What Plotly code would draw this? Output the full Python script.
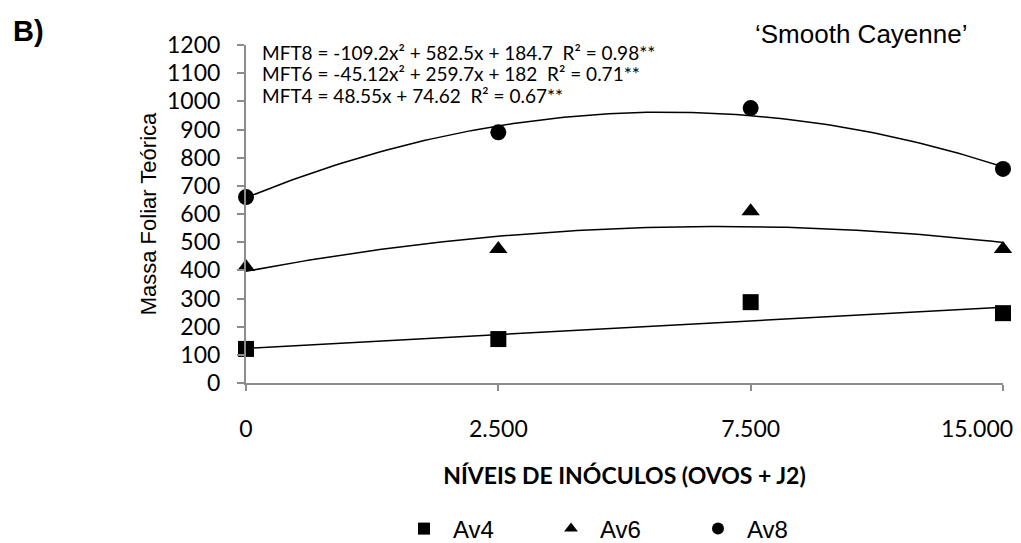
import numpy as np
import plotly.graph_objects as go

categories = ["0", "2.500", "7.500", "15.000"]
av4 = [121, 156, 287, 248]
av6 = [412, 476, 610, 476]
av8 = [660, 890, 976, 760]
# trendline coefficients (Excel index x = 1..4)
mft8 = [-109.2, 582.5, 184.7]
mft6 = [-45.12, 259.7, 182.0]
mft4 = [0.0, 48.55, 74.62]
equations = [
    "MFT8 = -109.2x² + 582.5x + 184.7  R² = 0.98**",
    "MFT6 = -45.12x² + 259.7x + 182  R² = 0.71**",
    "MFT4 = 48.55x + 74.62  R² = 0.67**",
]
y_ticks = list(range(0, 1201, 100))

W, H = 1021, 543
L, R, T, B = 246, 18, 45, 160
PH = H - T - B
PW = W - L - R

def px_to_paper_y(py):
    return (H - B - py) / PH

def px_to_paper_x(px):
    return (px - L) / PW

xpos = list(range(len(categories)))
# last category label is drawn by an overlaid axis, shifted left as in the original
main_text = categories[:-1] + [""]

fig = go.Figure()

xs = np.linspace(1, 4, 120)
for c in (mft8, mft6, mft4):
    ys = c[0] * xs**2 + c[1] * xs + c[2]
    fig.add_trace(go.Scatter(x=xs - 1, y=ys, mode="lines", line=dict(color="black", width=1.5),
                             showlegend=False, hoverinfo="skip", cliponaxis=False))

for name, vals, sym in [("Av4", av4, "square"), ("Av6", av6, "triangle-up"), ("Av8", av8, "circle")]:
    fig.add_trace(go.Scatter(x=xpos, y=vals, mode="markers", name=name,
                             marker=dict(symbol=sym, size=16, color="black"), cliponaxis=False))

# invisible helper trace so the overlaid axis is rendered
fig.add_trace(go.Scatter(x=[xpos[-1]], y=[0], xaxis="x2", mode="markers",
                         marker=dict(opacity=0), showlegend=False, hoverinfo="skip"))

for eq, py in zip(equations, [52, 73.5, 95]):
    fig.add_annotation(text=eq, xref="paper", yref="paper", x=px_to_paper_x(260), y=px_to_paper_y(py),
                       xanchor="left", yanchor="middle", showarrow=False,
                       font=dict(family="Lato", size=19, color="black"))

fig.add_annotation(text="‘Smooth Cayenne’", xref="paper", yref="paper", x=px_to_paper_x(861),
                   y=px_to_paper_y(34), xanchor="center", yanchor="middle", showarrow=False,
                   font=dict(family="Liberation Sans, Arial", size=26, color="black"))
fig.add_annotation(text="<b>B)</b>", xref="paper", yref="paper", x=px_to_paper_x(11),
                   y=px_to_paper_y(31), xanchor="left", yanchor="middle", showarrow=False,
                   font=dict(family="Liberation Sans, Arial", size=29, color="black"))

fig.update_layout(
    width=W, height=H,
    margin=dict(l=L, r=R, t=T, b=B, autoexpand=False),
    paper_bgcolor="white", plot_bgcolor="white",
    showlegend=True,
    legend=dict(orientation="h", xref="container", yref="container",
                x=395 / W, y=1 - 529 / H, xanchor="left", yanchor="middle",
                font=dict(family="Liberation Sans, Arial", size=24, color="black"),
                itemsizing="constant", itemwidth=48, entrywidth=84, entrywidthmode="pixels",
                bgcolor="rgba(0,0,0,0)"),
    font=dict(family="Lato", color="black"),
    xaxis2=dict(overlaying="x", anchor="y", side="bottom", range=[0, 3], automargin=False,
                tickmode="array", tickvals=[xpos[-1]], ticktext=[categories[-1]],
                ticklabelshift=-26, ticklabelstandoff=30, ticks="", showline=False,
                showgrid=False, zeroline=False,
                tickfont=dict(family="Lato", size=23, color="black")),
)
fig.update_layout(xaxis=dict(range=[0, 3], tickmode="array", tickvals=xpos, ticktext=main_text,
                 automargin=False,
                 showgrid=False, zeroline=False, showline=True, linecolor="#8c8c8c", linewidth=2,
                 ticks="outside", ticklen=6, tickcolor="#8c8c8c", tickwidth=2,
                 ticklabelstandoff=18,
                 tickfont=dict(family="Lato", size=23, color="black"),
                 title=dict(text="<b>NÍVEIS DE INÓCULOS (OVOS + J2)</b>", standoff=27,
                            font=dict(family="Lato", size=23, color="black"))))
fig.update_yaxes(range=[0, 1200], tickmode="array", tickvals=y_ticks,
                 automargin=False,
                 showgrid=False, zeroline=False, showline=True, linecolor="#8c8c8c", linewidth=2,
                 ticks="outside", ticklen=7, tickcolor="#8c8c8c", tickwidth=2,
                 ticklabelstandoff=12,
                 tickfont=dict(family="Lato", size=23, color="black"),
                 title=dict(text="Massa Foliar Teórica", standoff=4,
                            font=dict(family="Liberation Sans, Arial", size=22, color="black")))

fig.write_html("out.html")
